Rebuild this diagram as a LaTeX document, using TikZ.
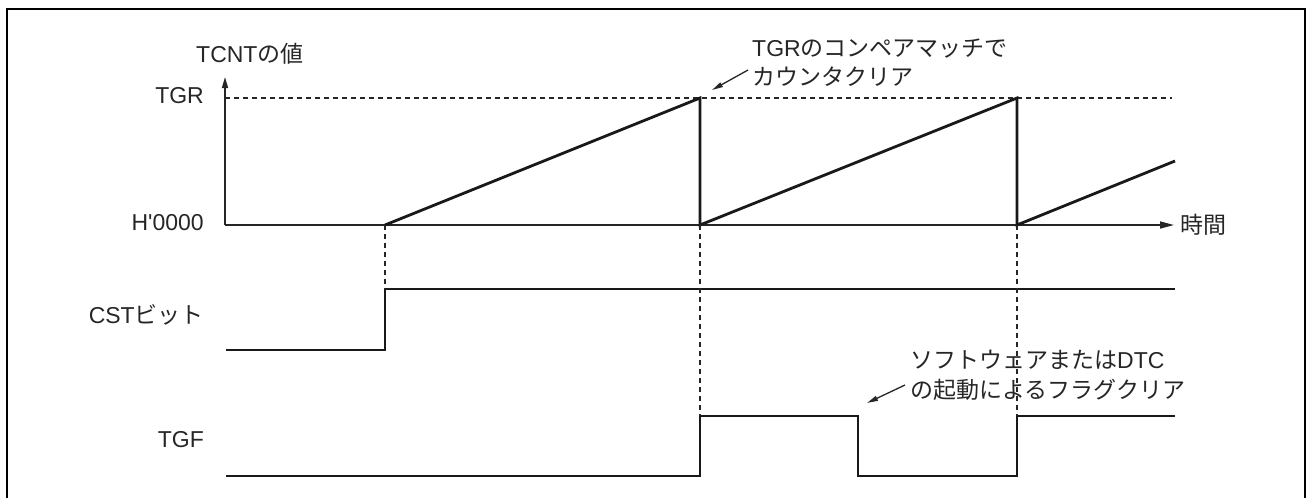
\documentclass[tikz,border=0pt]{standalone}
\usepackage{fontspec}
\setmainfont{Liberation Sans}[Ligatures=TeXOff]
\newfontfamily\cjk{Noto Sans CJK JP}
\usetikzlibrary{arrows.meta}
\begin{document}
\begin{tikzpicture}[x=1pt,y=-1pt,
  lbl/.style={font=\fontsize{23}{29}\selectfont, inner sep=0pt, text=black!85},
  sig/.style={line width=2.8pt, line join=miter, draw=black!90},
  axisline/.style={line width=1.6pt, draw=black!85},
  guide/.style={line width=1.1pt, dash pattern=on 5pt off 4pt, draw=black!85},
  frame/.style={line width=2.6pt},
  htip/.style={-{Triangle[length=14pt,width=7pt]}},
  vtip/.style={-{Triangle[length=11pt,width=6pt]}},
  notearrow/.style={line width=1.3pt, draw=black!85, -{Triangle[length=11pt,width=5pt]}}]
\useasboundingbox (0,0) rectangle (1308,498);
% frame (open at the bottom)
\draw[frame] (7,498) -- (7,9) -- (1305,9) -- (1305,498);

% axes
\coordinate (O) at (225,225);
\coordinate (Ytop) at (225,77);
\coordinate (Xend) at (1174,225);
\draw[axisline,vtip] (O) -- (Ytop);
\draw[axisline,htip] (O) -- (Xend);

% TGR level
\coordinate (T0) at (225,98);
\coordinate (T1) at (1172,98);
\draw[guide] (T0) -- (T1);

% key instants
\coordinate (s0) at (385,225);
\coordinate (p1) at (700,98);
\coordinate (b1) at (700,225);
\coordinate (p2) at (1017,98);
\coordinate (b2) at (1017,225);
\coordinate (r3) at (1175,161);

% TCNT ramp
\draw[sig] (s0) -- (p1) -- (b1) -- (p2) -- (b2) -- (r3);

% CST bit
\coordinate (c0) at (226,350);
\coordinate (c1) at (385,350);
\coordinate (c2) at (385,289);
\coordinate (c3) at (1175,289);
\draw[sig] (c0) -- (c1) -- (c2) -- (c3);

% TGF
\coordinate (g0) at (226,476);
\coordinate (g1) at (700,476);
\coordinate (g2) at (700,416);
\coordinate (g3) at (858,416);
\coordinate (g4) at (858,476);
\coordinate (g5) at (1017,476);
\coordinate (g6) at (1017,416);
\coordinate (g7) at (1175,416);
\draw[sig] (g0) -- (g1) -- (g2) -- (g3) -- (g4) -- (g5) -- (g6) -- (g7);

% vertical guides
\draw[guide] (s0) -- (c2);
\draw[guide] (b1) -- (g2);
\draw[guide] (b2) -- (g6);

% axis labels
\node[lbl,anchor=base west] (ylab) at (196,62) {TCNT{\cjk の値}};
\node[lbl,anchor=west] (xlab) at (1180,225) {\cjk 時間};
\node[lbl,anchor=base east] (ltgr) at (204,103) {TGR};
\node[lbl,anchor=base east] (lzero) at (204,230) {H'0000};
\node[lbl,anchor=base east] (lcst) at (204,323) {CST{\cjk ビット}};
\node[lbl,anchor=base east] (ltgf) at (204,447) {TGF};

% annotation 1
\node[lbl,anchor=base west] (n1a) at (752,56) {TGR{\cjk のコンペアマッチで}};
\node[lbl,anchor=base west] (n1b) at (752,85) {\cjk カウンタクリア};
\coordinate (a1s) at (748,70);
\coordinate (a1e) at (712,90);
\draw[notearrow] (a1s) -- (a1e);

% annotation 2
\node[lbl,anchor=base west] (n2a) at (910,368) {{\cjk ソフトウェアまたは}DTC};
\node[lbl,anchor=base west] (n2b) at (910,398) {\cjk の起動によるフラグクリア};
\coordinate (a2s) at (905,385);
\coordinate (a2e) at (867,403);
\draw[notearrow] (a2s) -- (a2e);
\end{tikzpicture}
\end{document}
